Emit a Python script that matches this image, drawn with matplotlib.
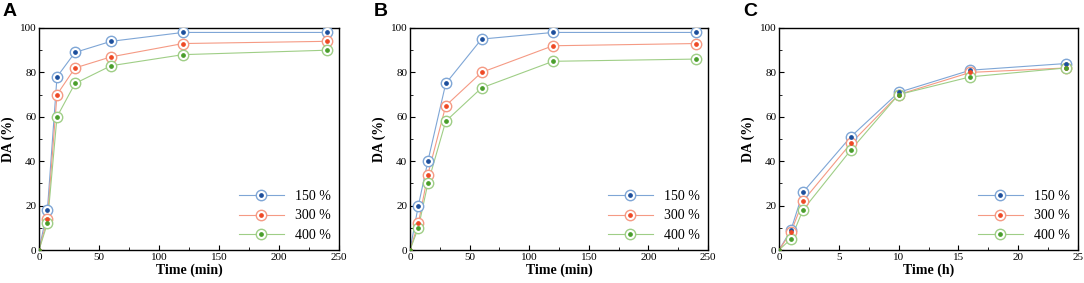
import matplotlib
matplotlib.use("Agg")
import matplotlib.pyplot as plt
from matplotlib.legend_handler import HandlerTuple
from matplotlib.ticker import MultipleLocator

# Panel A / B: time in minutes, panel C: time in hours
time_min = [0, 7, 15, 30, 60, 120, 240]
time_h = [0, 1, 2, 6, 10, 16, 24]

labels = ["150 %", "300 %", "400 %"]

a_150 = [0, 18, 78, 89, 94, 98, 98]
a_300 = [0, 14, 70, 82, 87, 93, 94]
a_400 = [0, 12, 60, 75, 83, 88, 90]

b_150 = [0, 20, 40, 75, 95, 98, 98]
b_300 = [0, 12, 34, 65, 80, 92, 93]
b_400 = [0, 10, 30, 58, 73, 85, 86]

c_150 = [0, 9, 26, 51, 71, 81, 84]
c_300 = [0, 8, 22, 48, 70, 80, 82]
c_400 = [0, 5, 18, 45, 70, 78, 82]

# (line/ring colour, centre dot colour)
colors = [("#7fa6d6", "#1d4f9c"), ("#f59a84", "#ee4a26"), ("#9fce86", "#4a9e2c")]

plt.rcParams["font.family"] = ["Liberation Serif", "DejaVu Serif"]

fig = plt.figure(figsize=(10.84, 2.83), dpi=100)
W, H = 1084, 283
boxes = [(39, 339), (410, 708), (779, 1078)]
top, bottom = 28, 250

panels = [
    ("A", time_min, [a_150, a_300, a_400], "Time (min)", 250, 50, 25),
    ("B", time_min, [b_150, b_300, b_400], "Time (min)", 250, 50, 25),
    ("C", time_h, [c_150, c_300, c_400], "Time (h)", 25, 5, 2.5),
]

for (x0, x1), (letter, xs, series, xlabel, xmax, xmaj, xmin) in zip(boxes, panels):
    ax = fig.add_axes([x0 / W, 1 - bottom / H, (x1 - x0) / W, (bottom - top) / H])
    handles = []
    for ys, (lc, dc) in zip(series, colors):
        ax.plot(xs, ys, color=lc, lw=0.8, zorder=2)
        ring, = ax.plot(xs[1:], ys[1:], ls="none", marker="o", ms=7.5,
                        mfc="white", mec=lc, mew=1.0, zorder=3)
        dot, = ax.plot(xs[1:], ys[1:], ls="none", marker="o", ms=2.4,
                       color=dc, zorder=4)
        ax.plot(xs[:1], ys[:1], ls="none", marker="o", ms=2.2, color=dc, zorder=4)
        line, = ax.plot([], [], color=lc, lw=0.8)
        handles.append((line, ring, dot))

    ax.set_xlim(0, xmax)
    ax.set_ylim(0, 100)
    ax.xaxis.set_major_locator(MultipleLocator(xmaj))
    ax.xaxis.set_minor_locator(MultipleLocator(xmin))
    ax.yaxis.set_major_locator(MultipleLocator(20))
    ax.yaxis.set_minor_locator(MultipleLocator(10))
    ax.tick_params(which="both", direction="in", labelsize=8, pad=2)
    ax.tick_params(which="major", length=3.5)
    ax.tick_params(which="minor", length=2)
    for sp in ax.spines.values():
        sp.set_linewidth(1.0)

    ax.set_xlabel(xlabel, fontsize=10, fontweight="bold", labelpad=1)
    ax.set_ylabel("DA (%)", fontsize=10, fontweight="bold", labelpad=3)

    ax.legend(handles, labels, handler_map={tuple: HandlerTuple(ndivide=1)},
              loc="lower right", frameon=False, fontsize=10,
              handlelength=3.2, labelspacing=0.45, borderaxespad=0.2,
              bbox_to_anchor=(1.0, 0.0))

    fig.text((x0 - 36) / W, 1 - 11 / H, letter, family="Liberation Sans",
             fontweight="bold", fontsize=14, va="center", ha="left")

fig.savefig("out.png", dpi=100)
